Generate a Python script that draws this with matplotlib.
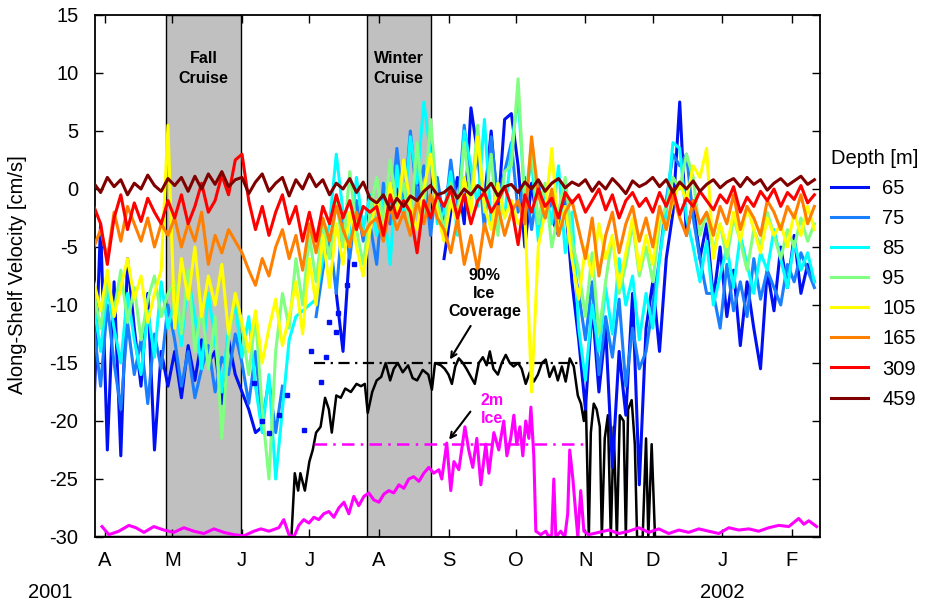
import matplotlib
matplotlib.use("Agg")
import matplotlib.pyplot as plt
import matplotlib.dates as mdates
import numpy as np
from datetime import datetime

plt.rcParams['font.family'] = ['Liberation Sans', 'DejaVu Sans']
plt.rcParams['axes.unicode_minus'] = False

nan = np.nan
start = datetime(2001, 3, 27)

# velocity series sampled every 3 days from 27 Mar 2001
step_days = list(range(0, 324, 3))

depths = [65, 75, 85, 95, 105, 165, 309, 459]
colors = ['#0010f5', '#1a7fff', '#00ffff', '#80ff80', '#ffff00', '#ff8000', '#ff0000', '#800000']

v65 = [-19.0, -3.0, -22.5, -8.0, -23.0, -6.0, -12.0, -17.0, -9.0, -22.5, -14.0, -17.0,
	-14.0, -18.0, -13.5, -16.5, -13.0, -15.0, -14.0, -18.5, -13.0, -16.0,
	-17.5, -19.0, -21.0, -20.5, nan, nan, nan, nan, nan, nan,
	nan, -16.0, nan, nan, -9.0, -14.0, -5.0, -2.0, -4.0, nan,
	nan, -1.0, -3.0, 0.0, -2.0, nan, 1.0, -1.5, nan, nan,
	-6.0, -2.0, 1.0, -3.0, 7.0, 3.0, -1.0, 5.0, -2.0, 6.0,
	6.5, 2.0, -5.0, 0.5, -3.5, nan, -2.5, -4.0, -1.0, -8.0,
	-13.0, -19.0, -10.0, -17.5, -12.0, -24.0, -14.0, -19.5, -9.0, -25.5,
	-12.0, -8.0, -14.0, -6.0, -2.0, 7.5, -4.0, -1.0, -6.0, -3.0,
	-9.5, -5.0, -11.0, -7.0, -13.5, -8.0, -12.0, -15.5, -7.0, -10.5,
	-5.0, -8.5, -4.0, -9.0, -6.5, -8.0]
v75 = [-12.0, -17.0, -10.0, -15.0, -19.0, -11.5, -16.0, -13.0, -18.5, -12.5, -15.5, -10.0,
	-13.0, -17.0, -14.0, -18.0, -15.5, -13.5, -17.5, -14.5, -16.0, -12.5,
	-15.0, -18.5, -14.0, -20.0, -16.5, -21.0, -17.0, nan, nan, nan,
	nan, -11.0, -7.0, -4.0, -9.0, -2.0, -6.0, -1.0, -4.5, -3.0,
	-6.5, 0.5, -3.0, 3.5, -2.0, 5.0, -1.0, 2.0, -4.0, 1.0,
	-3.0, 2.5, -2.0, 5.5, 0.0, 3.0, -3.5, 4.5, -1.0, 1.5,
	4.0, -2.0, 1.0, -3.5, 0.5, -2.5, -1.0, -4.0, 0.0, -6.0,
	-9.0, -13.0, -8.0, -16.0, -11.0, -14.5, -9.5, -17.0, -12.0, -15.5,
	-14.0, -10.0, -6.0, -1.0, 3.0, 2.0, 3.0, -2.5, -6.0, -9.0,
	-9.0, -12.0, -6.5, -10.5, -8.0, -11.0, -6.0, -9.5, -7.0, -8.5,
	-10.0, -6.5, -8.0, -5.5, -7.0, -8.5]
v85 = [-10.0, -14.0, -8.5, -12.0, -15.0, -9.0, -13.0, -16.0, -10.5, -14.5, -8.0, -12.0,
	-9.5, -13.5, -7.5, -11.0, -15.5, -9.0, -13.0, -17.5, -12.0, -10.0,
	-14.5, -11.0, -17.0, -21.0, -16.0, -25.0, -19.0, -13.0, -11.0, -10.5,
	-10.0, -9.5, -6.0, -3.0, 3.0, -2.0, -5.0, 1.0, -3.5, -0.5,
	-4.0, -1.0, -6.5, 2.0, -2.5, 4.5, 0.5, 7.5, 3.0, -3.0,
	-2.0, 1.5, -4.0, 5.0, 2.0, -1.5, 6.0, -3.0, 0.5, -2.5,
	3.5, 8.0, -1.0, 2.5, -4.5, 0.0, -3.0, 2.0, -5.5, -2.0,
	-12.0, -16.5, -10.0, -14.0, -8.5, -12.5, -6.0, -10.0, -7.5, -13.0,
	-9.0, -12.0, -6.0, -2.0, 4.0, 3.5, -2.5, -5.0, -8.0, -4.5,
	-10.0, -7.5, -5.0, -8.5, -4.0, -6.5, -9.0, -5.5, -7.0, -3.5,
	-6.0, -8.5, -4.5, -7.0, -5.5, -8.0]
v95 = [-9.0, -12.0, -8.0, -10.5, -7.0, -11.5, -8.5, -13.0, -9.5, -7.5, -11.0, -9.0,
	-8.0, -12.5, -7.0, -14.0, -10.0, -15.5, -11.0, -21.5, -13.0, -9.0,
	-12.0, -16.0, -11.0, -19.0, -25.0, -14.0, -9.0, -12.0, -6.0, -10.0,
	-4.0, -8.0, -3.0, -6.0, -1.0, -5.0, 1.5, -3.5, -6.5, -2.0,
	1.0, -3.0, 2.5, -1.5, 0.5, -3.5, 4.0, -2.0, 6.0, -1.0,
	-3.5, 0.5, -2.5, 4.0, -1.0, 5.5, -2.0, 3.0, -4.0, 1.5,
	2.0, 9.5, -1.5, 4.0, -3.0, 0.5, -5.0, -2.0, 1.0, -4.5,
	-7.0, -11.0, -5.5, -12.5, -8.0, -4.0, -9.0, -6.5, -3.0, -7.5,
	-5.0, -8.0, -3.0, -1.5, 1.0, 0.0, 3.0, 1.0, -4.0, -2.0,
	-5.5, -3.0, -6.0, -2.5, -4.5, -7.0, -3.5, -5.0, -2.0, -4.0,
	-6.0, -3.5, -5.0, -2.5, -4.5, -3.0]
v105 = [-8.0, -10.5, -7.0, -11.0, -8.5, -6.0, -9.5, -7.5, -11.5, -9.0, -7.0, 5.5,
	-12.0, -6.0, -9.5, -5.0, -11.0, -7.5, -10.0, -6.5, -12.5, -9.0,
	-11.5, -14.0, -10.5, -15.0, -12.0, -9.5, -13.5, -11.0, -8.0, -12.5,
	-6.0, -10.0, -4.0, -8.5, -3.0, -6.5, -2.0, -5.0, -7.5, -3.5,
	-1.0, -4.0, 0.5, -2.5, 2.5, -1.5, -3.5, 0.0, 3.0, -2.0,
	-4.5, -1.0, -3.0, 1.0, -2.0, 4.5, -1.5, -3.5, 0.5, -2.5,
	-1.0, -3.0, -2.0, -17.5, -5.0, -2.0, 3.5, -4.0, -1.5, -6.0,
	-9.5, -5.0, -7.5, -3.0, -6.0, -4.0, -8.5, -5.5, -2.5, -7.0,
	-4.0, -6.5, -2.0, -3.5, -1.0, 0.5, -1.0, 2.0, 1.0, 3.5,
	-6.0, -3.0, -5.0, -2.0, -4.5, -1.5, -3.5, -5.5, -2.5, -4.0,
	-3.0, -5.0, -2.0, -4.0, -1.5, -3.5]
v165 = [-5.0, -3.5, -6.0, -2.0, -4.5, -1.5, -3.0, -4.5, -2.5, -5.0, -3.0, -4.0,
	-2.5, -5.0, -3.0, -4.5, -2.0, -6.5, -4.0, -5.5, -3.5, -4.5,
	-5.5, -7.0, -8.3, -6.0, -7.5, -5.0, -3.5, -6.0, -4.0, -7.0,
	-3.0, -5.5, -2.5, -4.5, -1.5, -3.5, -5.0, -2.0, -4.0, -3.0,
	-2.5, -4.5, -1.5, -3.5, -2.0, -4.0, -1.0, -3.0, -0.5, -2.5,
	-3.5, -5.5, -2.5, -6.5, -4.0, -7.0, -3.0, -5.0, -1.5, -4.0,
	-2.0, -1.0, -3.0, 4.5, -0.5, -2.5, 0.0, -4.0, -2.0, -1.0,
	-3.5, -6.0, -2.5, -7.5, -4.0, -2.0, -5.5, -3.0, -1.5, -4.5,
	-2.5, -5.0, -1.5, -3.5, -0.5, -2.5, -4.0, -1.0, -3.0, -2.0,
	-4.0, -1.5, -3.0, -0.5, -3.5, -1.5, -2.5, -4.0, -1.0, -2.0,
	-3.5, -1.5, -2.5, -0.5, -3.0, -1.5]
v309 = [-1.5, -3.0, -6.5, -2.5, -0.5, -3.5, -1.2, -2.8, -0.8, -2.0, -3.0, -1.0,
	-2.5, -0.5, -3.0, -1.5, 0.5, -2.0, -1.0, 1.2, -0.5, 2.5,
	3.0, -1.0, -3.5, -1.5, -4.0, -2.0, -0.5, -3.0, -1.5, -4.5,
	-2.0, -4.5, -1.5, -3.0, -0.5, -2.5, -1.0, -3.5, -1.5, -2.0,
	-1.5, -4.0, -0.5, -2.5, -1.0, -2.0, -5.5, -1.0, -2.5, -0.5,
	-1.5, 0.0, -2.5, -0.5, -3.0, -1.0, -0.3, -2.0, -1.0, 0.2,
	-1.5, -4.8, -0.5, -2.0, 0.0, -1.5, -0.8, -2.5, -0.3, -1.2,
	-0.5, -2.0, -1.0, 0.0, -1.8, -0.5, -2.5, -1.0, -0.3, -1.5,
	-0.8, -2.0, -0.3, -1.5, 0.0, -2.2, -0.8, -1.5, -0.2, -1.0,
	-1.8, -0.5, -1.2, 0.2, -2.0, -0.7, -1.5, -0.2, -1.0, 0.0,
	-1.5, -0.3, -0.9, 0.3, -1.2, -0.5]
v459 = [0.5, -0.3, 1.0, 0.2, 0.8, -0.5, 0.5, 0.0, 1.2, 0.3, -0.2, 0.9,
	0.3, 1.0, -0.2, 1.1, 0.0, 1.3, 0.4, 1.5, 0.2, 0.8,
	1.0, -0.4, 0.6, 1.3, -0.2, 0.5, 1.0, -0.6, 0.8, 0.0,
	1.3, 0.2, 0.8, -0.5, 0.5, 0.0, 0.9, -0.3, 0.6, -0.8,
	-1.2, -0.5, -1.8, -0.8, -1.5, -0.6, -1.0, -0.2, 0.3, -0.5,
	-0.3, 0.2, -0.8, 0.0, -0.5, 0.3, -0.2, 0.5, -0.6, 0.2,
	0.4, -0.3, 0.6, 0.0, 0.8, -0.2, 0.5, 0.9, 0.1, 0.6,
	0.3, 0.8, -0.2, 0.6, 0.0, 0.9, 0.3, -0.4, 0.7, 0.2,
	0.5, 1.0, 0.2, 0.8, -0.3, 0.6, 0.0, 0.7, -0.2, 0.4,
	0.8, 0.1, 0.6, 0.9, 0.2, 1.0, 0.4, 0.8, -0.1, 0.5,
	0.9, 0.3, 0.7, 1.1, 0.4, 0.8]
series = [v65, v75, v85, v95, v105, v165, v309, v459]

# scattered 65 m values during the record gap (drawn as dots)
dots65_day = [71.3, 74.8, 78, 82.4, 86, 93.5, 96.7, 101, 103.3, 104.7, 107.8, 108.7, 112.7, 115.8]
dots65_val = [-16.7, -20.0, -21.0, -19.5, -17.8, -20.8, -14.0, -16.6, -14.5, -11.5, -12.3, -10.7, -8.3, -6.5]

# ice coverage (black) and 2m ice (magenta), days after 27 Mar 2001
ice_day = [0, 87, 88, 89.5, 91, 92, 94, 96, 97.5, 99,
	101, 103, 104.7, 106, 108, 110, 112, 114.5, 117, 119,
	120.7, 122, 124, 126, 128, 130, 132, 133.6, 135.4, 137.6,
	140, 142, 144, 146.5, 149, 150.6, 152, 154.6, 156.3, 158,
	159.5, 161, 162.6, 164.4, 166, 168, 169.7, 171.5, 173.3, 175,
	176.4, 178, 180, 181.7, 183.5, 185.3, 187, 189, 190.6, 192.4,
	194.2, 196, 197.8, 199.6, 201.3, 203, 205, 206.7, 208.5, 210.2,
	212, 213.8, 215.6, 217, 218.3, 219.2, 220.5, 221.4, 222.7, 224,
	225.4, 226.3, 227.6, 229, 230.3, 231.6, 233, 234.3, 236, 237,
	238, 239.6, 241, 242, 244.5, 246, 247, 248.5, 250, 251.7,
	323]
ice_cov = [-30, -30, -30, -24.5, -26, -24.5, -26, -23.5, -22.5, -21,
	-20.5, -18, -19, -21, -17.8, -18, -17.2, -17.5, -16.8, -17,
	-16.8, -19.3, -17.5, -16.5, -16.2, -15.0, -16.5, -15.5, -15.0, -15.8,
	-15.2, -16.3, -16.5, -15.6, -16.0, -17.3, -15.0, -15.2, -15.5, -16.0,
	-16.8, -15.3, -14.6, -15.0, -15.5, -16.2, -16.8, -15.0, -14.5, -15.2,
	-14.0, -15.5, -16.0, -15.0, -14.3, -15.0, -15.3, -15.0, -15.5, -16.8,
	-15.8, -16.6, -16.0, -15.0, -14.7, -16.2, -15.3, -16.5, -15.3, -16.6,
	-14.6, -15.3, -17.8, -18.5, -20.0, -18.5, -30, -21.0, -18.5, -19,
	-20.5, -30, -21.5, -19.5, -30, -20.5, -30, -19.5, -20.0, -30,
	-19.0, -18.2, -22, -30, -30, -21.5, -30, -22.0, -30, -30,
	-30]

ice2m_day = [3.6, 6.7, 11.1, 15.6, 18.7, 22.3, 26.7, 31.2, 35.6,
	40.1, 44.5, 49, 53.5, 57.9, 62.4, 66.8, 71.3, 74.4, 78,
	82.4, 84.6, 86.9, 89.1, 91.3, 93.5, 95.8, 98, 100.2, 102.4,
	104.7, 106.9, 109.1, 111.4, 113.6, 115.8, 118, 120.3, 122.5, 124.7,
	127, 129.2, 131.4, 133.6, 135.9, 138.1, 140.3, 142.5, 144.8, 147,
	149.2, 151.4, 153.7, 155, 157.2, 159, 160.4, 162.6, 165.3, 167,
	168.8, 170.6, 172.4, 174.6, 176, 178.2, 180.4, 182.6, 184, 185.7,
	187.1, 188.4, 189.8, 191.1, 192.4, 193.8, 194.7, 196, 196.9, 199.1,
	201.3, 202.7, 204, 204.9, 205.8, 208, 209.8, 211.1, 212, 213.4,
	214.7, 215.6, 216.9, 218.3, 220.5, 224.9, 229.4, 233.9, 238.3, 242.8,
	247.2, 251.7, 256.1, 260.6, 265, 269.5, 273.9, 278.4, 282.9, 287.3,
	291.8, 296.2, 300.7, 305.1, 309.6, 314, 316.3, 318.5, 322]
ice2m = [-29.1, -29.8, -29.5, -29.0, -29.2, -29.6, -29.1, -29.4, -29.6,
	-29.2, -29.5, -29.7, -29.3, -29.6, -29.8, -29.9, -29.5, -29.3, -29.5,
	-29.2, -28.5, -29.8, -30.0, -29.0, -28.5, -28.8, -28.3, -28.5, -28.0,
	-27.8, -28.3, -27.5, -27.0, -28.0, -26.5, -27.3, -26.5, -26.2, -26.8,
	-27.0, -26.3, -26.0, -26.2, -25.5, -25.8, -25.0, -24.8, -25.2, -24.5,
	-24.0, -24.5, -24.2, -25.0, -21.9, -26.0, -23.5, -24.2, -20.5, -22.5,
	-24.0, -21.5, -25.5, -22.0, -24.5, -21.0, -22.5, -20.0, -23.0, -21.5,
	-19.5, -22.0, -20.5, -23.0, -20.0, -21.5, -18.8, -23.0, -29.5, -29.8,
	-29.5, -30.0, -29.8, -25.0, -30.0, -29.5, -30.0, -28.0, -22.5, -25.0,
	-28.0, -30.0, -26.0, -29.5, -29.8, -29.6, -29.4, -29.7, -29.5, -29.2,
	-29.6, -29.3, -29.7, -29.4, -29.6, -29.3, -29.5, -29.7, -29.2, -29.4,
	-29.3, -29.5, -29.2, -29.0, -29.1, -28.4, -28.9, -28.6, -29.1]

# thresholds and cruise periods
ice90_level = -15
ice2m_level = -22
threshold_span = (98, 218)
cruises = [("Fall\nCruise", 32.1, 65.5), ("Winter\nCruise", 121.6, 150.1)]


def to_dates(days):
	return mdates.date2num(start) + np.asarray(days, dtype=float)


fig = plt.figure(figsize=(9.25, 6.05), dpi=100)
ax = fig.add_axes([95 / 925, 68 / 605, 725 / 925, 522 / 605])

for name, d0, d1 in cruises:
	ax.axvspan(to_dates([d0])[0], to_dates([d1])[0], facecolor='#c0c0c0', edgecolor='black', lw=1, zorder=0)
	ax.text(to_dates([(d0 + d1) / 2])[0], 10.4, name, ha='center', va='center',
		fontsize=11.5, fontweight='bold', linespacing=1.45, zorder=5)

# ice lines under the velocity series
ax.plot(to_dates(ice_day), ice_cov, color='black', lw=1.8, zorder=2)
ax.plot(to_dates(ice2m_day), ice2m, color='#ff00ff', lw=2.2, zorder=2)
ax.plot(to_dates(threshold_span), [ice90_level, ice90_level], color='black', lw=1.6,
	linestyle=(0, (5, 2.5, 1, 2.5)), zorder=2)
ax.plot(to_dates(threshold_span), [ice2m_level, ice2m_level], color='#ff00ff', lw=1.8,
	linestyle=(0, (5, 2.5, 1, 2.5)), zorder=2)

x = to_dates(step_days)
lines = []
for depth, vals, col in zip(depths, series, colors):
	n = min(len(x), len(vals))
	ln, = ax.plot(x[:n], vals[:n], color=col, lw=2.2, solid_joinstyle='round', zorder=3, label=str(depth))
	lines.append(ln)
ax.plot(to_dates(dots65_day), dots65_val, linestyle='none', marker='s', ms=2.5, color=colors[0], zorder=3)

ax.annotate('', xy=(to_dates([158])[0], -14.9), xytext=(to_dates([168.5])[0], -11.6),
	arrowprops=dict(arrowstyle='->', color='black', lw=1.5), zorder=6)
ax.text(to_dates([174])[0], -9.05, "90%\nIce\nCoverage", ha='center', va='center',
	fontsize=11.5, fontweight='bold', linespacing=1.25, zorder=6)
ax.annotate('', xy=(to_dates([157.5])[0], -21.8), xytext=(to_dates([168.5])[0], -19.0),
	arrowprops=dict(arrowstyle='->', color='black', lw=1.5), zorder=6)
ax.text(to_dates([177.5])[0], -19.05, "2m\nIce", ha='center', va='center', color='#ff00ff',
	fontsize=11.5, fontweight='bold', linespacing=1.25, zorder=6)

ax.set_xlim(mdates.date2num(datetime(2001, 3, 27, 12)), mdates.date2num(datetime(2002, 2, 13, 12)))
ax.set_ylim(-30, 15)
ax.set_yticks(range(-30, 16, 5))
ax.xaxis.set_major_locator(mdates.MonthLocator())
ax.xaxis.set_major_formatter(plt.FuncFormatter(lambda v, p: mdates.num2date(v).strftime('%b')[0]))
ax.tick_params(direction='in', top=True, right=True, length=6, width=1, labelsize=14.5)
ax.tick_params(axis='x', pad=10)
ax.tick_params(axis='y', pad=12)
for sp in ax.spines.values():
	sp.set_linewidth(1.3)

fig.text(18 / 925, 1 - 275 / 605, "Along-Shelf Velocity [cm/s]", rotation=90, ha='center', va='center', fontsize=14.5)
fig.text(50 / 925, 1 - 592 / 605, "2001", ha='center', va='center', fontsize=14.5)
fig.text(722 / 925, 1 - 592 / 605, "2002", ha='center', va='center', fontsize=14.5)

leg = fig.legend(handles=lines, title="Depth [m]", loc='upper left', bbox_to_anchor=(831 / 925, 1 - 149 / 605),
	frameon=False, fontsize=14.5, title_fontsize=14.5, handlelength=1.85, handletextpad=0.7,
	labelspacing=0.55, borderpad=0, borderaxespad=0, alignment='left')

fig.savefig('out.png', dpi=100)
